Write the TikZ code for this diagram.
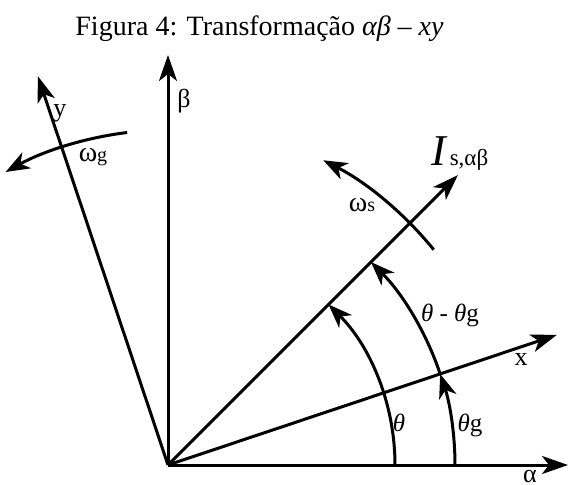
\documentclass[tikz,border=0pt]{standalone}
\usepackage{fontspec}
\setmainfont{Liberation Serif}
\usetikzlibrary{arrows.meta}
\tikzset{
  ax/.style  ={-{Stealth[length=13pt, width=9pt, inset=3.5pt]}, line width=1.5pt},
  ang/.style ={-{Stealth[length=12pt, width=9pt, inset=3.5pt]}, line width=1.5pt},
  lab/.style ={font=\fontsize{13}{15}\selectfont, inner sep=0pt},
  alab/.style={font=\fontsize{12.5}{14}\selectfont, inner sep=0pt},
  wlab/.style={font=\fontsize{14}{16}\selectfont, inner sep=0pt},
  capt/.style={font=\fontsize{14}{16}\selectfont, inner sep=0pt},
}

\begin{document}
\begin{tikzpicture}[x=0.5pt, y=0.5pt]
  \useasboundingbox (0,0) rectangle (569,484);
  % caption
  \node[capt, anchor=base west] (cap) at (75,449)
    {Figura 4: Transformação \textit{αβ} – \textit{xy}};
  % origin and axis tips (stationary alpha-beta, rotating x-y)
  \coordinate (O) at (168,19);
  \path (O) +(0:400) coordinate (aT) +(90:410) coordinate (bT)
            +(18.5:410) coordinate (xT) +(108.5:410) coordinate (yT)
            +(45:410) coordinate (iT);
  \draw[ax] (O) -- (aT);
  \draw[ax] (O) -- (bT);
  \draw[ax] (O) -- (xT);
  \draw[ax] (O) -- (yT);
  \draw[ax] (O) -- (iT);
  % angle arcs, start points on the axes
  \path (O) +(0:227) coordinate (th0) +(0:287) coordinate (tg0)
            +(18.5:287) coordinate (tg1) +(39:342) coordinate (ws0)
            +(97:335) coordinate (wg0);
  \draw[ang] (th0) arc[start angle=0, end angle=45, radius=227];
  \draw[ang] (tg0) arc[start angle=0, end angle=18.5, radius=287];
  \draw[ang] (tg1) arc[start angle=18.5, end angle=45, radius=287];
  \draw[ang] (ws0) arc[start angle=39, end angle=63, radius=342];
  \draw[ang] (wg0) arc[start angle=97, end angle=119, radius=335];
  % axis labels
  \node[lab, anchor=base] (la) at (530,2) {α};
  \node[lab] (lb) at (184,383) {β};
  \node[lab] (lx) at (521,124) {x};
  \node[lab] (ly) at (60,371) {y};
  \node[anchor=base west, inner sep=0pt] (lI) at (431,319)
    {\fontsize{22}{22}\selectfont\textit{I}\kern1pt{\fontsize{11.5}{12}\selectfont s,αβ}};
  % speed and angle labels
  \node[wlab] (lwg) at (93,327) {ω{\fontsize{10}{10}\selectfont g}};
  \node[wlab] (lws) at (362,279) {ω{\fontsize{10}{10}\selectfont s}};
  \node[alab] (lth) at (399,61) {\textit{θ}};
  \node[alab] (ltg) at (470,59) {\textit{θ}g};
  \node[alab] (lthg) at (450,169) {\textit{θ} - \textit{θ}g};
\end{tikzpicture}
\end{document}
